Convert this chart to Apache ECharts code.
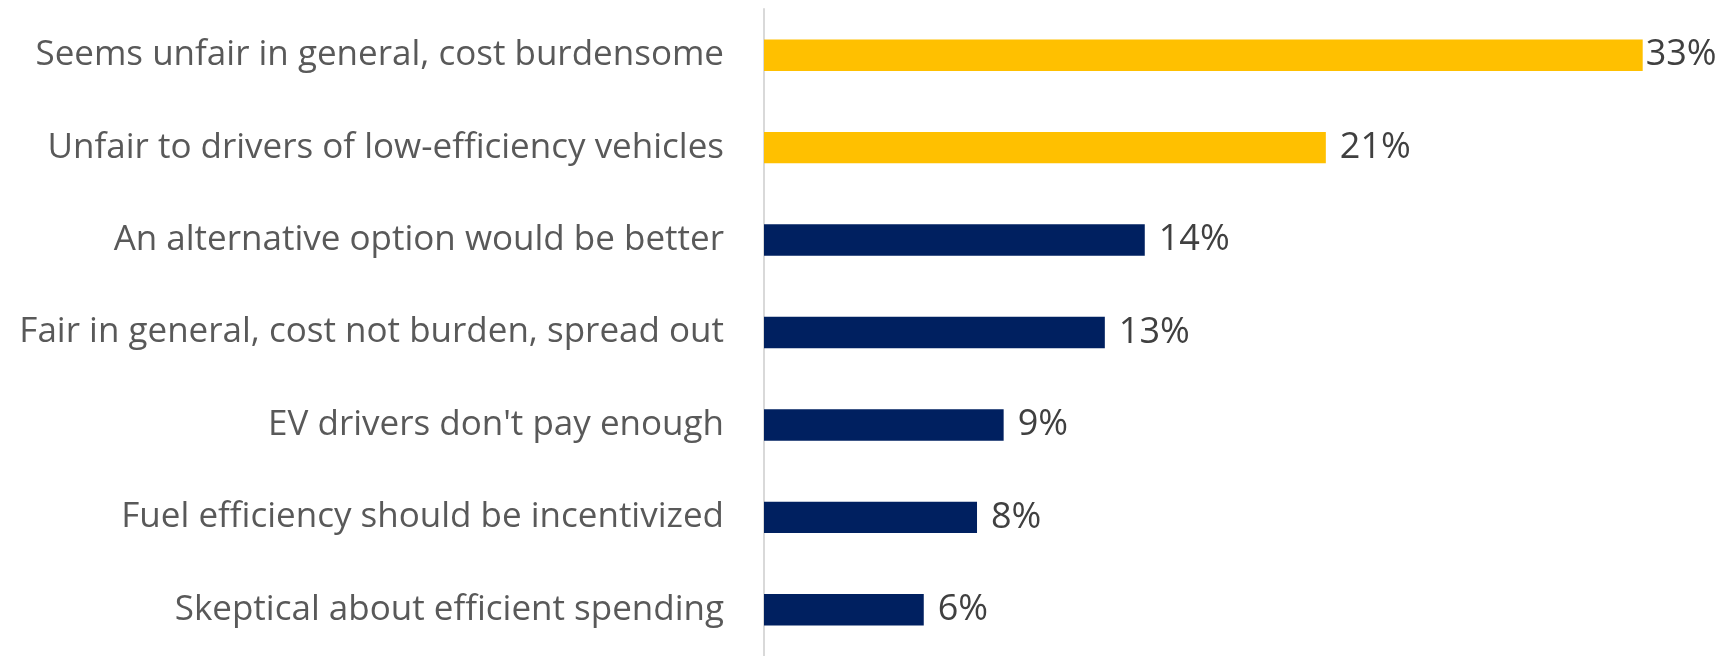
<!DOCTYPE html>
<html>
<head>
<meta charset="utf-8">
<script src="https://cdn.jsdelivr.net/npm/echarts@6/dist/echarts.min.js"></script>
<style>html,body{margin:0;padding:0;background:#fff}#c{width:1724px;height:656px}</style>
</head>
<body>
<div id="c"></div>
<script>
const categories = [
  "Seems unfair in general, cost burdensome",
  "Unfair to drivers of low-efficiency vehicles",
  "An alternative option would be better",
  "Fair in general, cost not burden, spread out",
  "EV drivers don't pay enough",
  "Fuel efficiency should be incentivized",
  "Skeptical about efficient spending"
];
const values = [33, 21.1, 14.3, 12.8, 9, 8, 6];
const valueLabels = ["33%", "21%", "14%", "13%", "9%", "8%", "6%"];
const barColors = ["#FFC000", "#FFC000", "#002060", "#002060", "#002060", "#002060", "#002060"];

const chart = echarts.init(document.getElementById('c'), null, {renderer: 'canvas'});
chart.setOption({
  animation: false,
  grid: {left: 764, top: 9, height: 651, width: 878.7 * 35 / 33},
  xAxis: {type: 'value', min: 0, max: 35, show: false},
  yAxis: {
    type: 'category', data: categories, inverse: true,
    axisLine: {show: true, lineStyle: {color: '#d9d9d9', width: 2}},
    axisTick: {show: false},
    axisLabel: {color: '#595959', fontSize: 35, fontFamily: 'Open Sans', margin: 40, padding: [5, 0, 0, 0]}
  },
  series: [{
    type: 'bar', barWidth: '34%',
    data: values.map((v, i) => ({
      value: v, itemStyle: {color: barColors[i]},
      label: {distance: i === 0 ? 3 : 14}
    })),
    label: {show: true, position: 'right', color: '#404040', fontSize: 36, fontFamily: 'Open Sans',
      padding: [5, 0, 0, 0], formatter: p => valueLabels[p.dataIndex]}
  }]
});
</script>
</body>
</html>
